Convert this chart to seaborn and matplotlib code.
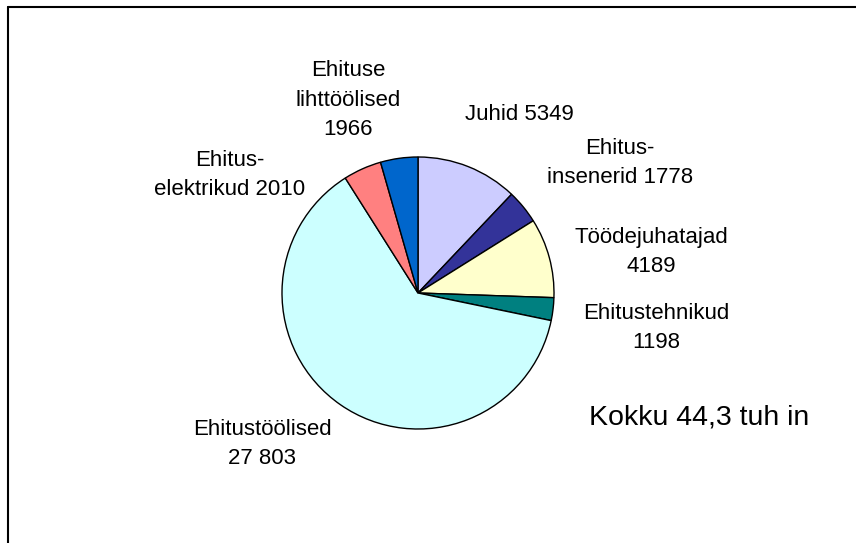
import matplotlib
matplotlib.use("Agg")
import matplotlib.pyplot as plt
from matplotlib.lines import Line2D
import seaborn as sns

# data, clockwise from 12 o'clock
categories = ["Juhid", "Ehitus-\ninsenerid", "Töödejuhatajad", "Ehitustehnikud",
              "Ehitustöölised", "Ehitus-\nelektrikud", "Ehituse\nlihttöölised"]
values = [5349, 1778, 4189, 1198, 27803, 2010, 1966]
value_labels = ["5349", "1778", "4189", "1198", "27 803", "2010", "1966"]
total_label = "Kokku 44,3 tuh in"

colors = ["#CCCCFF", "#333399", "#FFFFCC", "#008080", "#CCFFFF", "#FF8080", "#0066CC"]

# label text layout: (center x px, center y px from top, joiner)
label_pos = [(519, 114, " "), (620, 163, " "), (651, 252, "\n"), (656, 328, "\n"),
             (262, 444, "\n"), (230, 175, " "), (348, 100, "\n")]

sns.set_theme(style="white")
plt.rcParams['font.family'] = ['Liberation Sans', 'DejaVu Sans']

W, H = 856, 543
fig = plt.figure(figsize=(W / 100, H / 100), dpi=100)
fig.patch.set_facecolor("white")

cx, cy, r = 418, 293, 136
ax = fig.add_axes([(cx - r) / W, (H - cy - r) / H, 2 * r / W, 2 * r / H])
ax.pie(values, colors=colors, startangle=90, counterclock=False,
       wedgeprops=dict(edgecolor="black", linewidth=1.0))
ax.set_xlim(-1.0, 1.0)
ax.set_ylim(-1.0, 1.0)
ax.axis("off")

for cat, val, (x, y, sep) in zip(categories, value_labels, label_pos):
    fig.text(x / W, 1 - y / H, cat + sep + val, ha="center", va="center",
             fontsize=16, linespacing=1.55, color="black")

fig.text(699 / W, 1 - 417 / H, total_label, ha="center", va="center",
         fontsize=20.5, color="black")

# outer frame (cut off at right and bottom)
fig.add_artist(Line2D([8 / W, 1.0], [1 - 7 / H, 1 - 7 / H], color="black", linewidth=1.5,
                      transform=fig.transFigure))
fig.add_artist(Line2D([8 / W, 8 / W], [1 - 7 / H, 0.0], color="black", linewidth=1.5,
                      transform=fig.transFigure))

fig.savefig("out.png", dpi=100)
